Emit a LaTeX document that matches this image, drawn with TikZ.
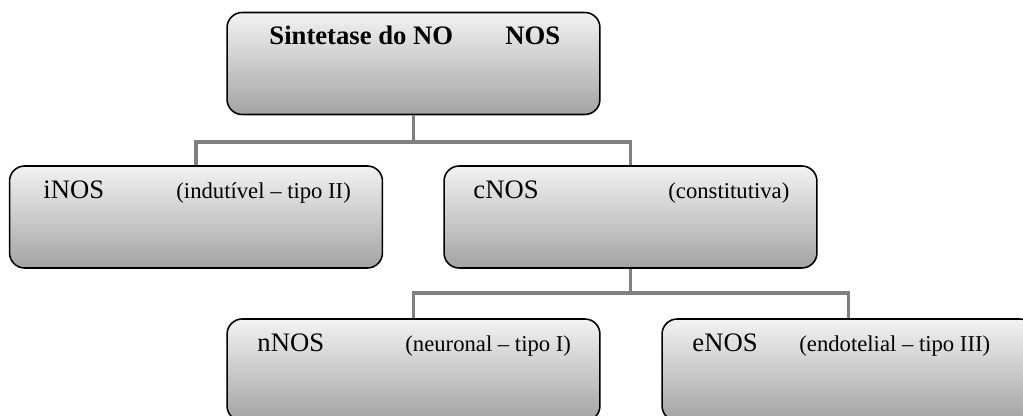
\documentclass[tikz,border=0pt]{standalone}
\usepackage{fontspec}
\setmainfont{Liberation Serif}

\begin{document}
\begin{tikzpicture}[x = 0.45pt, y = 0.45pt,
  nosbox/.style = {draw = black, line width = 0.7pt, rounded corners = 6.8pt,
    top color = black!5, bottom color = black!36,
    minimum width = 167.8pt, minimum height = 45.9pt, inner sep = 0pt},
  branch/.style = {draw = black!50, line width = 1.6pt},
  enzyme/.style = {anchor = base west, inner sep = 0pt, font = \fontsize{12}{14}\selectfont},
  kind/.style = {anchor = base west, inner sep = 0pt, font = \fontsize{10.2}{12}\selectfont}]
\clip (0, 0) rectangle (1023, -416);
\fill[white] (0, 0) rectangle (1023, -416);
\node[nosbox] (sint) at (413.5, -63.5){};
\node[nosbox] (inos) at (196, -217){};
\node[nosbox] (cnos) at (630.5, -217){};
\node[nosbox] (nnos) at (413.5, -370){};
\node[nosbox] (enos) at (848.5, -370){};
\coordinate (forkA) at (413.5, -142);
\coordinate (forkB) at (630.5, -293);
\draw[branch] (sint.south) -- (forkA);
\draw[branch] (inos.north) |- (forkA) -| (cnos.north);
\draw[branch] (cnos.south) -- (forkB);
\draw[branch] (nnos.north) |- (forkB) -| (enos.north);
\node[enzyme, font = \fontsize{12}{14}\selectfont\bfseries] (sintA) at (269, -44){Sintetase do NO};
\node[enzyme, font = \fontsize{12}{14}\selectfont\bfseries] (sintB) at (505, -44){NOS};
\node[enzyme] (inosA) at (43, -198){iNOS};
\node[kind] (inosB) at (176, -198){(indutível – tipo II)};
\node[enzyme] (cnosA) at (473, -198){cNOS};
\node[kind] (cnosB) at (668, -198){(constitutiva)};
\node[enzyme] (nnosA) at (257, -351){nNOS};
\node[kind] (nnosB) at (405, -351){(neuronal – tipo I)};
\node[enzyme] (enosA) at (692, -351){eNOS};
\node[kind] (enosB) at (799, -351){(endotelial – tipo III)};
\end{tikzpicture}
\end{document}
